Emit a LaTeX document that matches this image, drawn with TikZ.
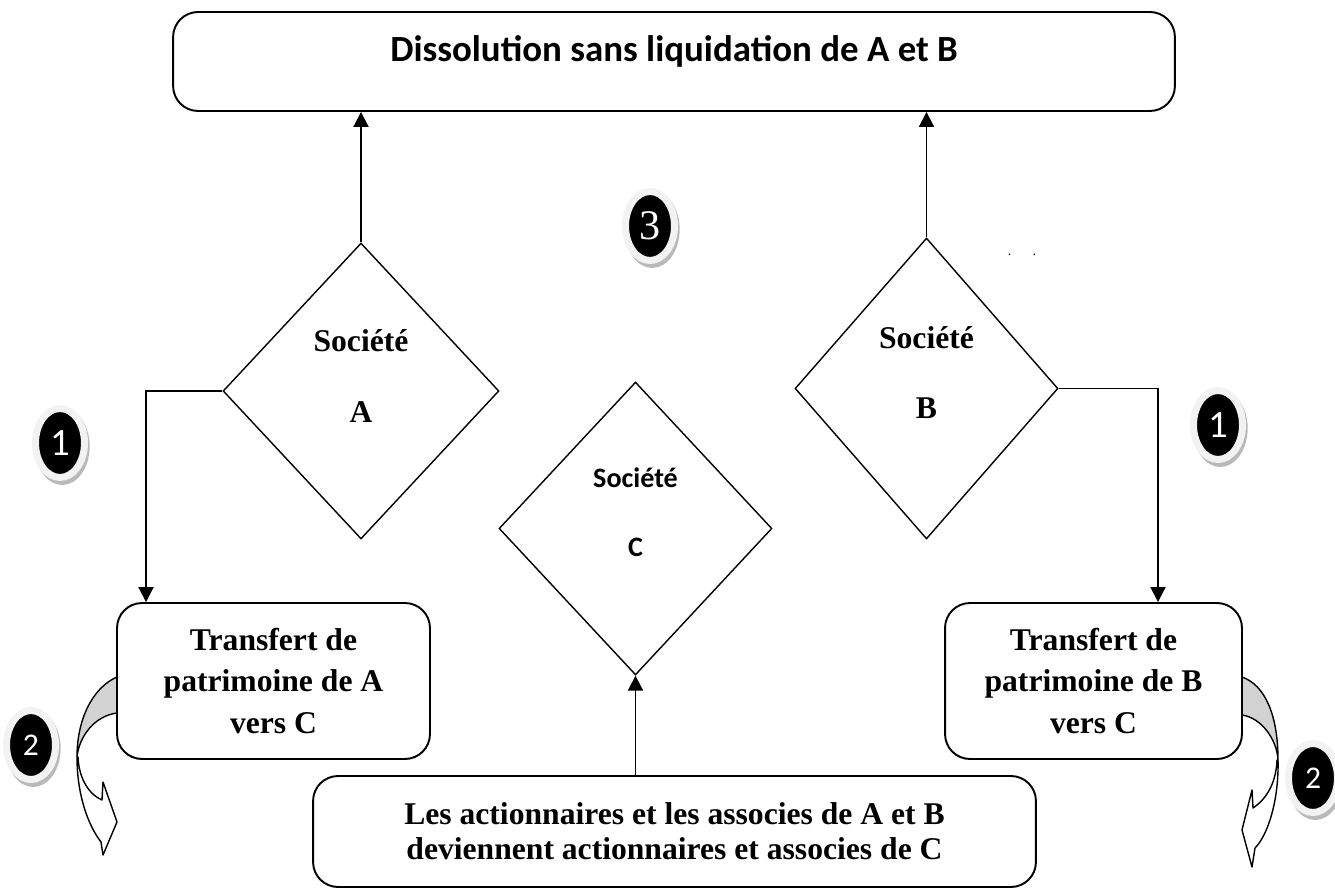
\documentclass[tikz,border=0pt]{standalone}
\usepackage{fontspec}
\setmainfont{Liberation Serif}
\newfontfamily\calibri{Carlito}
\usetikzlibrary{shapes.geometric,arrows.meta,shadows}

\tikzset{
    boite/.style = {draw, rounded corners=0.5cm, line width=1.1pt, fill=white, align=center, font=\bfseries\fontsize{18}{23.5}\selectfont},
    losange/.style = {draw, diamond, line width=0.8pt, inner sep=0pt},
    texte/.style = {align=center, font=\bfseries\fontsize{18}{40}\selectfont},
    fleche/.style = {line width=1.1pt, -{Triangle[length=0.3cm, width=0.3cm]}},
    pastille/.style = {ellipse, fill=black, draw=gray!10, line width=0.14cm, minimum width=0.98cm, minimum height=1.38cm, inner sep=0pt, text=white,
        drop shadow={shadow scale=1.12, shadow xshift=0.04cm, shadow yshift=-0.06cm, fill=gray!55, opacity=1}},
    ruban/.style = {draw, line width=0.8pt, line join=round}
}

\begin{document}
\begin{tikzpicture}[x=0.02cm, y=-0.02cm]
    \useasboundingbox (0,0) rectangle (1335,888);

    % rubans courbes (2)
    \filldraw[ruban, fill=white] (77,757) .. controls (77,795) and (88,825) .. (101,842) -- (103,855) -- (117,822) -- (103,782) -- (102,800) .. controls (90,795) and (79,780) .. (78,757) -- cycle;
    \filldraw[ruban, fill=gray!35] (117,677) .. controls (92,688) and (77,720) .. (77,757) .. controls (79,737) and (94,716) .. (117,713);
    \filldraw[ruban, fill=white] (1278,760) .. controls (1279,800) and (1268,835) .. (1255,848) -- (1252,867) -- (1242,830) -- (1252,790) -- (1253,808) .. controls (1265,800) and (1276,785) .. (1277,760) -- cycle;
    \filldraw[ruban, fill=gray!35] (1242,677) .. controls (1265,685) and (1278,715) .. (1278,760) .. controls (1277,740) and (1262,718) .. (1242,715);

    % boites
    \node[boite, minimum width=20.04cm, minimum height=1.98cm] (haut) at (674,61.5) {};
    \node[font=\calibri\bfseries\fontsize{21}{25}\selectfont, anchor=base] (titre) at (674,62) {Dissolution sans liquidation de A et B};
    \node[boite, minimum width=6.26cm, minimum height=3.12cm] (tA) at (273.5,681) {Transfert de\\patrimoine de A\\vers C};
    \node[boite, minimum width=5.94cm, minimum height=3.12cm] (tB) at (1093.5,681) {Transfert de\\patrimoine de B\\vers C};
    \node[boite, minimum width=14.46cm, minimum height=2.22cm, font=\bfseries\fontsize{18}{20}\selectfont] (bas) at (674.5,831.5) {Les actionnaires et les associes de A et B\\deviennent actionnaires et associes de C};

    % societes
    \node[losange, minimum width=5.52cm, minimum height=5.92cm, label={[texte, yshift=0.3cm]center:Société\\A}] (sA) at (361,391) {};
    \node[losange, minimum width=5.26cm, minimum height=6.02cm, label={[texte, yshift=0.32cm]center:Société\\B}] (sB) at (926.5,388.5) {};
    \node[losange, minimum width=5.46cm, minimum height=5.86cm, label={[texte, font=\calibri\bfseries\fontsize{16}{39}\selectfont, yshift=0.33cm]center:Société\\C}] (sC) at (635.5,528.5) {};

    % fleches
    \coordinate (coudeA) at (146,391);
    \coordinate (coudeB) at (1158,388.5);
    \draw[fleche] (sA.north) -- (sA.north |- haut.south);
    \draw[fleche] (sB.north) -- (sB.north |- haut.south);
    \draw[fleche] (sA.west) -- (coudeA) -- (coudeA |- tA.north);
    \draw[fleche] (sB.east) -- (coudeB) -- (coudeB |- tB.north);
    \draw[fleche] (sC.south |- bas.north) -- (sC.south);

    % pastilles
    \node[pastille, font=\calibri\fontsize{22}{22}\selectfont] (unA) at (60,443) {1};
    \node[pastille, font=\calibri\fontsize{22}{22}\selectfont] (unB) at (1218,425) {1};
    \node[pastille, font=\calibri\fontsize{18}{18}\selectfont] (deuxA) at (31,745) {2};
    \node[pastille, font=\calibri\fontsize{18}{18}\selectfont] (deuxB) at (1313,778) {2};
    \node[pastille, font=\fontsize{24}{24}\selectfont] (trois) at (650,226) {3};

    \node[font=\fontsize{8}{8}\selectfont] (pts) at (1022,255) {.\hspace{12pt}.};
\end{tikzpicture}
\end{document}
